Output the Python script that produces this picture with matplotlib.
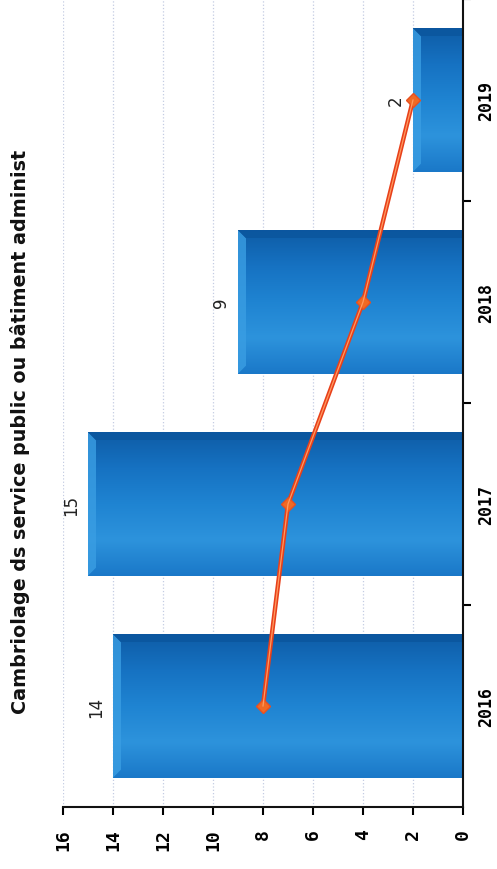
import numpy as np
import matplotlib.pyplot as plt
from matplotlib.colors import LinearSegmentedColormap
from matplotlib.patches import Polygon

# Data (chart is drawn rotated: values run right-to-left along the bottom)
years = ["2016", "2017", "2018", "2019"]
counts = [14, 15, 9, 2]
trend = [8, 7, 4, 2]
value_ticks = [0, 2, 4, 6, 8, 10, 12, 14, 16]
title = "Cambriolage ds service public ou bâtiment administ"

fig = plt.figure(figsize=(4.97, 8.70), dpi=100)
ax = fig.add_axes([63 / 497, 62 / 870, 400 / 497, 808 / 870])

pos = np.arange(len(years))
bar_h = 0.71

# gradient across the bar thickness (dark top edge -> lighter bottom)
grad_cmap = LinearSegmentedColormap.from_list(
    "bar", ["#1a78c8", "#2d93dc", "#1f84d2", "#1672c2", "#0e5ca6"])
grad = np.linspace(0, 1, 256).reshape(-1, 1)

bars = ax.barh(pos, counts, height=bar_h, color="#1a78c8", zorder=2)
for b, v in zip(bars, counts):
    y0, y1 = b.get_y(), b.get_y() + b.get_height()
    im = ax.imshow(grad, cmap=grad_cmap, aspect="auto", origin="lower",
                   extent=[0, v, y0, y1], zorder=2.1)
    im.set_clip_path(b)
    # bevelled end
    bw, bh = 0.32, 0.04
    end_face = Polygon([(v, y0), (v, y1), (v - bw, y1 - bh), (v - bw, y0 + bh)],
                       closed=True, facecolor="#3a9ee3", edgecolor="none",
                       alpha=0.8, zorder=2.2)
    top_face = Polygon([(v, y1), (0, y1), (0, y1 - bh), (v - bw, y1 - bh)],
                       closed=True, facecolor="#0b569e", edgecolor="none",
                       alpha=0.85, zorder=2.2)
    ax.add_patch(end_face)
    ax.add_patch(top_face)
    ax.text(v + 0.68, b.get_y() + b.get_height() / 2, str(v), rotation=90,
            ha="center", va="center", fontsize=12, color="#222222",
            family="DejaVu Sans")

# trend line
ax.plot(trend, pos, color="#e8401a", lw=3.2, marker="D", ms=7,
        mfc="#f06a24", mec="#e85020", zorder=5)
ax.plot(trend, pos, color="#ff9a60", lw=0.9, zorder=5.1)

ax.set_xlim(16, 0)
ax.set_ylim(-0.5, 3.5)

ax.set_xticks(value_ticks)
ax.set_xticklabels([str(t) for t in value_ticks], rotation=90,
                   fontsize=13, fontweight="bold", family="DejaVu Sans Mono")
ax.tick_params(axis="x", direction="out", length=6, width=1.5, pad=9)
ax.grid(axis="x", color="#c4cce2", linestyle=":", linewidth=0.9, zorder=0)
ax.set_axisbelow(True)

ax.yaxis.tick_right()
ax.set_yticks(pos)
ax.set_yticklabels(years, rotation=90, va="center",
                   fontsize=12, fontweight="bold", family="DejaVu Sans Mono")
ax.set_yticks(pos + 0.5, minor=True)
ax.tick_params(axis="y", which="major", length=0, pad=10)
ax.tick_params(axis="y", which="minor", direction="out", length=6, width=1.5)

for s in ["top", "left"]:
    ax.spines[s].set_visible(False)
for s in ["bottom", "right"]:
    ax.spines[s].set_linewidth(1.5)
    ax.spines[s].set_color("#111111")

fig.text(20 / 497, 1 - 432 / 870, title, rotation=90, ha="center",
         va="center", fontsize=13.8, fontweight="bold", color="#111111")

fig.savefig("out.png", dpi=100)
